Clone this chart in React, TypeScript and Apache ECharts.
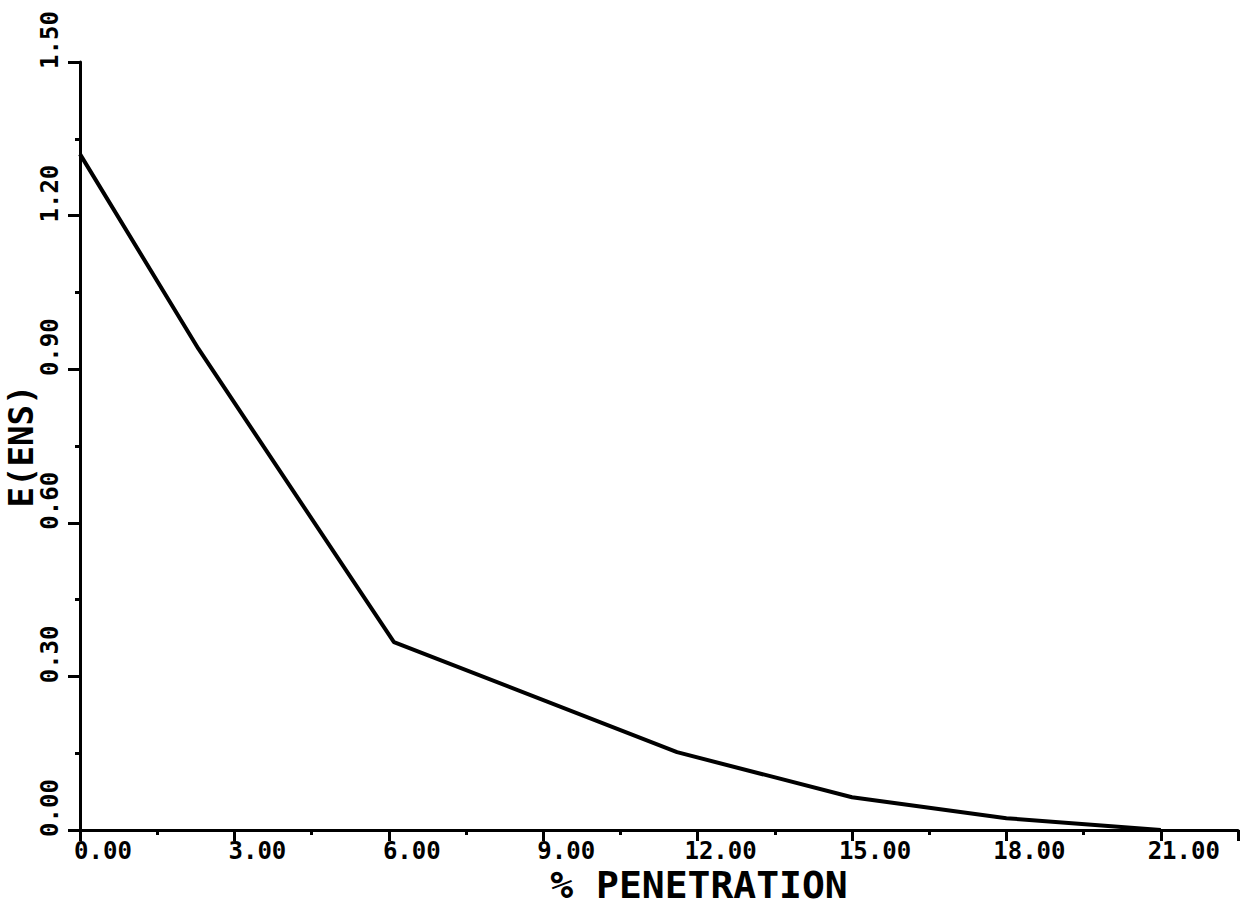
import React, { useEffect, useRef } from "react";
import * as echarts from "echarts";

// Data
const penetration: number[] = [0, 2.3, 6.1, 11.6, 15, 18, 21];
const energy: number[] = [1.32, 0.94, 0.367, 0.152, 0.064, 0.023, 0.0];

const xTitle = "% PENETRATION";
const yTitle = "E(ENS)";
const xMin = 0;
const xMax = 22.5;
const xStep = 3;
const xLastLabel = 21;
const yMin = 0;
const yMax = 1.5;
const yStep = 0.3;

const FONT = "'DejaVu Sans Mono', monospace";

export default function App() {
  const ref = useRef<HTMLDivElement>(null);
  useEffect(() => {
    if (!ref.current) return;
    const chart = echarts.init(ref.current, undefined, { renderer: "svg" });
    const points = penetration.map((x, i) => [x, energy[i]]);
    chart.setOption({
      animation: false,
      backgroundColor: "#ffffff",
      grid: {
        left: 80,
        right: 13,
        top: 62,
        bottom: 79,
        containLabel: false,
        outerBoundsMode: "none",
      },
      xAxis: {
        type: "value",
        min: xMin,
        max: xMax,
        interval: xStep,
        name: xTitle,
        nameLocation: "middle",
        nameGap: 36,
        nameMoveOverlap: false,
        nameTextStyle: {
          fontFamily: FONT,
          fontSize: 38,
          fontWeight: "bold",
          color: "#000",
          padding: [0, 0, 0, 80],
        },
        axisLine: { show: true, onZero: false, lineStyle: { color: "#000", width: 3 } },
        axisTick: { show: true, inside: false, length: 11, lineStyle: { color: "#000", width: 3 } },
        minorTick: { show: true, splitNumber: 2, length: 5, lineStyle: { color: "#000", width: 3 } },
        splitLine: { show: false },
        axisLabel: {
          show: true,
          margin: 9,
          fontFamily: FONT,
          fontSize: 24,
          fontWeight: "bold",
          color: "#000",
          padding: [0, 0, 0, 46],
          formatter: (v: number) => (v > xLastLabel ? "" : v.toFixed(2)),
        },
      },
      yAxis: {
        type: "value",
        min: yMin,
        max: yMax,
        interval: yStep,
        name: yTitle,
        nameLocation: "middle",
        nameGap: 42,
        nameRotate: 90,
        nameMoveOverlap: false,
        nameTextStyle: {
          fontFamily: FONT,
          fontSize: 34,
          fontWeight: "bold",
          color: "#000",
        },
        axisLine: { show: true, onZero: false, lineStyle: { color: "#000", width: 3 } },
        axisTick: { show: true, inside: false, length: 12, lineStyle: { color: "#000", width: 3 } },
        minorTick: { show: true, splitNumber: 2, length: 5, lineStyle: { color: "#000", width: 3 } },
        splitLine: { show: false },
        axisLabel: {
          show: true,
          rotate: 90,
          margin: 18,
          fontFamily: FONT,
          fontSize: 24,
          fontWeight: "bold",
          color: "#000",
          padding: [0, 0, 0, 44],
          formatter: (v: number) => v.toFixed(2),
        },
      },
      series: [
        {
          type: "line",
          data: points,
          showSymbol: false,
          symbol: "none",
          lineStyle: { color: "#000", width: 4 },
          z: 3,
        },
      ],
    });
    return () => chart.dispose();
  }, []);
  return (
    <div
      ref={ref}
      style={{ position: "fixed", left: 0, top: 0, width: 1251, height: 909, background: "#fff" }}
    />
  );
}
